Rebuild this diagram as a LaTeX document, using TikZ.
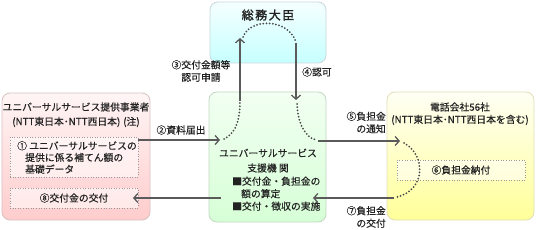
\documentclass[tikz,border=0pt]{standalone}
\usepackage{fontspec}
\setmainfont{Noto Sans CJK JP}[FakeBold=0.35]
\newfontfamily\jpbold{Noto Sans CJK JP}[FakeBold=1.6]
\usetikzlibrary{arrows.meta}
\definecolor{lineg}{HTML}{5A5A5A}
\definecolor{dotg}{HTML}{4A4A4A}
\definecolor{txt}{HTML}{222222}
\tikzset{
  box/.style={draw=#1, rounded corners=8pt, line width=0.8pt, inner sep=0pt},
  inbox/.style={draw=gray!80, dotted, line width=0.6pt, fill=white, fill opacity=0.55, inner sep=0pt},
  lbl/.style={font=\fontsize{9.8}{12.5}\selectfont, text=txt, inner sep=0pt},
  conn/.style={draw=lineg, line width=1.6pt, -{Straight Barb[length=4pt,width=9pt,line width=1.3pt]}},
  dotline/.style={draw=dotg, line width=2pt, line cap=round, dash pattern=on 0pt off 3.2pt}
}
\begin{document}
\begin{tikzpicture}[x=1pt,y=-1pt]
\useasboundingbox (0,0) rectangle (536,230);
% outer boxes
\node[box=cyan!25!gray!40, top color=cyan!4, bottom color=cyan!22, minimum width=116pt, minimum height=61pt] (min) at (268,32.5) {};
\node[box=green!20!gray!40, top color=green!5, bottom color=green!16, minimum width=117pt, minimum height=130pt] (agn) at (267.5,157) {};
\node[box=red!20!gray!40, top color=red!4, bottom color=red!20, minimum width=148pt, minimum height=127pt] (prov) at (76,156.5) {};
\node[box=yellow!40!gray!45, top color=yellow!4, bottom color=yellow!40, minimum width=147pt, minimum height=128pt] (tel) at (460.5,156) {};
% inner dotted boxes
\node[inbox, minimum width=128pt, minimum height=40pt] (data) at (74,157) {};
\node[inbox, minimum width=128pt, minimum height=20pt] (grant) at (74,198) {};
\node[inbox, minimum width=128pt, minimum height=20pt] (pay) at (461,170) {};
% texts
\node[lbl, font=\fontsize{12}{14}\selectfont\jpbold] (mint) at (268,15) {総\hspace{1.5pt}務\hspace{1.5pt}大\hspace{1.5pt}臣};
\node[lbl] (provt1) at (76,107) {ユニバーサルサービス提供事業者};
\node[lbl] (provt2) at (76,122) {(NTT東日本･NTT西日本)\hspace{3pt}(注)};
\node[lbl, align=left, anchor=north west, font=\fontsize{9.8}{11.7}\selectfont] (datat) at (17,141) {① ユニバーサルサービスの\\\hspace{8pt}提供に係る補てん額の\\\hspace{8pt}基礎データ};
\node[lbl] (grantt) at (74,198) {⑧交付金の交付};
\node[lbl] (agt1) at (268,153) {ユニバーサルサービス};
\node[lbl] (agt2) at (268,168) {支援機 関};
\node[lbl, align=left, anchor=north west, font=\fontsize{9.8}{12.5}\selectfont] (agt3) at (232,176.5) {■交付金・負担金の\\\hspace{9pt}額の算定\\■交付・徴収の実施};
\node[lbl] (telt1) at (460,107) {電話会社56社};
\node[lbl] (telt2) at (460,120) {(NTT東日本･NTT西日本を含む)};
\node[lbl] (payt) at (461,170) {⑥負担金納付};
% connector labels
\node[lbl, align=center] (l3) at (201,71) {③交付金額等\\認可申請};
\node[lbl, anchor=west] (l4) at (302,72) {④認可};
\node[lbl] (l2) at (181,130) {②資料届出};
\node[lbl, align=right, anchor=east] (l5) at (386,122.5) {⑤負担金\\の通知};
\node[lbl, align=right, anchor=east] (l7) at (386,217) {⑦負担金\\の交付};
% coordinates
\coordinate (a2e) at (220,140);
\coordinate (d3a) at (224,139);
\coordinate (d3b) at (240,101);
\coordinate (a3t) at (240,38);
\coordinate (arcL) at (243,37);
\coordinate (arcR) at (296,42);
\coordinate (a4t) at (296,43);
\coordinate (a4b) at (296,100);
\coordinate (d5a) at (297,104);
\coordinate (d5b) at (316,140);
\coordinate (a5s) at (318,141);
\coordinate (a5e) at (400,141);
\coordinate (d6a) at (404,143);
\coordinate (d6b) at (397,197);
\coordinate (a7s) at (394,198);
\coordinate (a7e) at (313,198);
\coordinate (a8s) at (221,198);
\coordinate (a8e) at (133,198);
% connectors
\draw[conn] (data.east |- a2e) -- (a2e);
\draw[dotline] (d3a) .. controls (238,132) and (240,116) .. (d3b);
\draw[conn] (d3b) -- (a3t);
\draw[dotline] (arcL) .. controls (250,18) and (288,18) .. (arcR);
\draw[conn] (a4t) -- (a4b);
\draw[dotline] (d5a) .. controls (298,124) and (305,137) .. (d5b);
\draw[conn] (a5s) -- (a5e);
\draw[dotline] (d6a) .. controls (426,155) and (426,190) .. (d6b);
\draw[conn] (a7s) -- (a7e);
\draw[conn] (a8s) -- (a8e);
\end{tikzpicture}
\end{document}
